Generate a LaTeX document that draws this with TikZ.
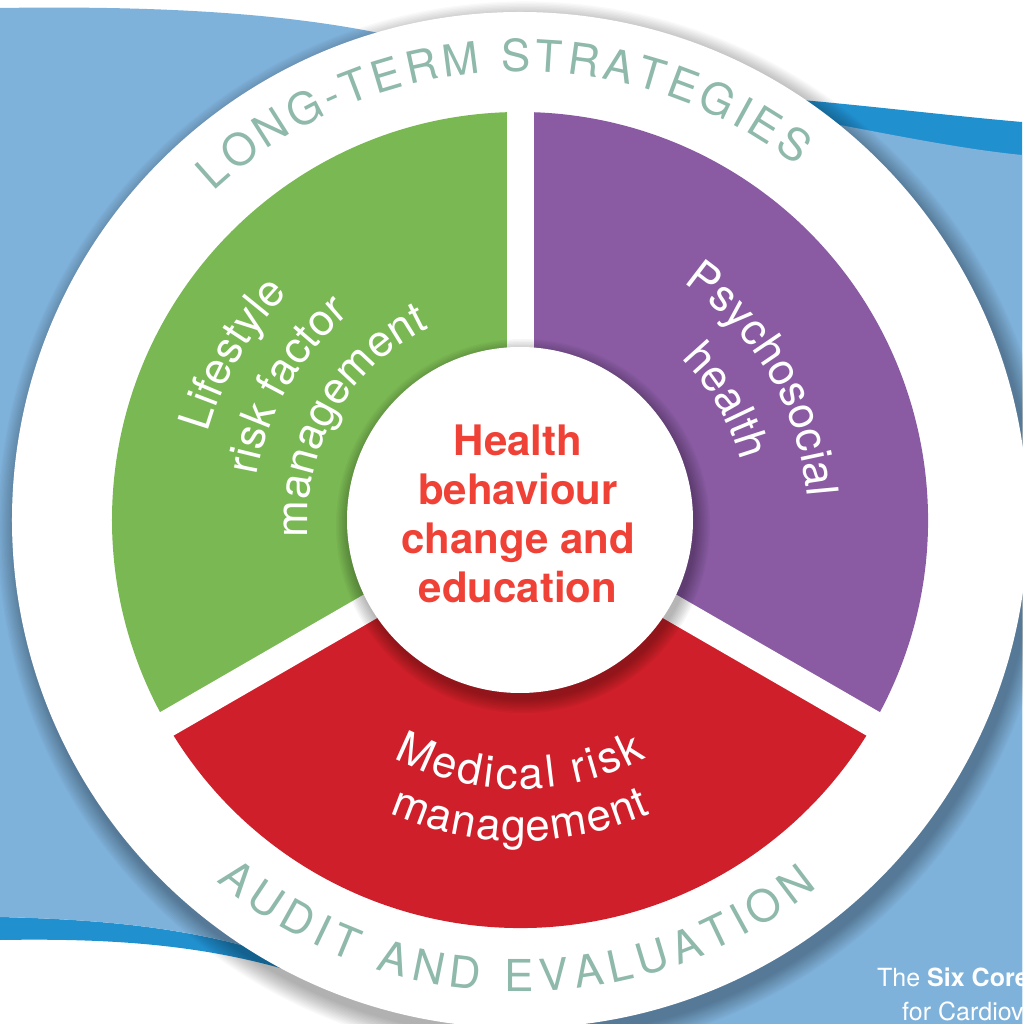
\documentclass[tikz,border=0pt]{standalone}
\usepackage{fontspec}
\setmainfont{TeX Gyre Heros}
\usetikzlibrary{decorations.text}
\definecolor{lifegreen}{RGB}{122,184,83}
\definecolor{psychpurple}{RGB}{138,91,163}
\definecolor{medred}{RGB}{206,31,42}
\definecolor{hubred}{RGB}{239,65,54}
\definecolor{ringteal}{RGB}{143,185,170}
\definecolor{skyblue}{RGB}{127,178,219}
\definecolor{deepblue}{RGB}{33,144,207}
\newcommand{\ringfont}{\fontsize{44}{48}\selectfont\color{ringteal}}
\newcommand{\segfont}{\fontsize{44}{48}\selectfont\color{white}}
\tikzset{
    arc text/.style={decorate, decoration={text along path, text={#1}, text align=center}},
    fit text/.style={decorate, decoration={text along path, text={#1}, text align={fit to path}}}
}

\begin{document}
\begin{tikzpicture}[x=1pt,y=1pt]
\useasboundingbox (-520,-504) rectangle (502,520);
\fill[white] (-520,-504) rectangle (502,520);

% blue swooshes behind the wheel
\fill[deepblue] (-520,-397) .. controls (-400,-400) and (-290,-410) .. (-180,-460) -- (-180,-468) .. controls (-290,-425) and (-400,-418) .. (-520,-420) -- cycle;
\fill[skyblue] (-520,512) .. controls (-320,515) and (-190,502) .. (-90,475) -- (-180,-460) .. controls (-290,-410) and (-400,-400) .. (-520,-397) -- cycle;
\fill[deepblue] (220,425) .. controls (320,418) and (420,405) .. (502,398) -- (502,-504) -- (40,-504) -- cycle;
\fill[skyblue] (240,410) .. controls (340,392) and (430,372) .. (502,365) -- (502,-504) -- (40,-504) -- cycle;

% soft shadow of the wheel
\foreach \k in {1,...,14}
  \fill[black,opacity=0.022] (5,-9) circle[radius=508+1.4*\k];
\fill[white] (0,0) circle[radius=508];

% the three segments
\fill[lifegreen] (0,0) -- (90:408) arc[start angle=90, end angle=210, radius=408] -- cycle;
\fill[medred] (0,0) -- (210:408) arc[start angle=210, end angle=330, radius=408] -- cycle;
\fill[psychpurple] (0,0) -- (330:408) arc[start angle=330, end angle=450, radius=408] -- cycle;
\foreach \a in {90,210,330}
  \draw[white, line width=27pt] (0,0) -- (\a:420);

% hub with its shadow
\foreach \k in {1,...,10}
  \fill[black,opacity=0.03] (3,-6) circle[radius=172+1.5*\k];
\fill[white] (0,0) circle[radius=173];
\node (hub) at (-2,6) [font=\fontsize{42}{49}\selectfont\bfseries, text=hubred, align=center, inner sep=0pt] {Health\\behaviour\\change and\\education};

% segment labels
\path[arc text={|\segfont|Lifestyle}] (210:324) arc[start angle=210, end angle=90, radius=324];
\path[arc text={|\segfont|risk factor}] (210:267) arc[start angle=210, end angle=90, radius=267];
\path[arc text={|\segfont|management}] (210:212) arc[start angle=210, end angle=90, radius=212];
\path[arc text={|\segfont|Psychosocial}] (90:288) arc[start angle=90, end angle=-30, radius=288];
\path[arc text={|\segfont|health}] (90:228) arc[start angle=90, end angle=-30, radius=228];
\path[fit text={|\segfont|Medical risk}] (242:269) arc[start angle=242, end angle=298, radius=269];
\path[fit text={|\segfont|management}] (246:321) arc[start angle=246, end angle=294, radius=321];

% ring titles
\path[fit text={|\ringfont|LONG-TERM STRATEGIES}] (133:449) arc[start angle=133, end angle=52, radius=449];
\path[fit text={|\ringfont|AUDIT AND EVALUATION}] (230:472) arc[start angle=230, end angle=309, radius=472];

% footer, cut by the page edge
\node (credit) at (357,-466) [anchor=base west, font=\fontsize{25}{29}\selectfont, text=white, inner sep=0pt] {The \textbf{Six Core Components}};
\node (creditb) at (382,-500) [anchor=base west, font=\fontsize{25}{29}\selectfont, text=white, inner sep=0pt] {for Cardiovascular Disease};
\end{tikzpicture}
\end{document}
